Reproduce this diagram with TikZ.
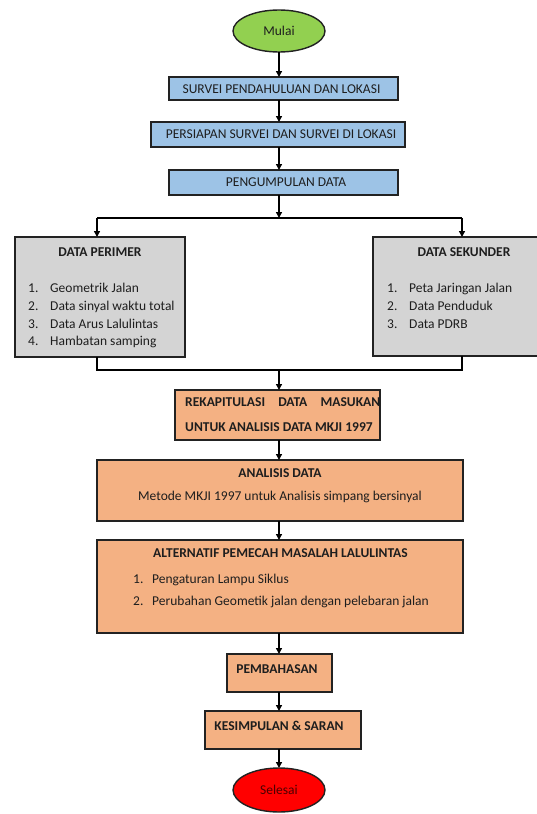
\documentclass[tikz,border=0pt]{standalone}
\usepackage{fontspec}
\setmainfont{Carlito}
\usetikzlibrary{arrows.meta,shapes.geometric}
\definecolor{cgreen}{HTML}{92D050}
\definecolor{cblue}{HTML}{9DC3E6}
\definecolor{cgray}{HTML}{D4D4D4}
\definecolor{corange}{HTML}{F4B183}
\definecolor{cred}{HTML}{FF0000}
\definecolor{cline}{HTML}{222222}
\definecolor{ctext}{HTML}{1E1E1E}
\begin{document}
\begin{tikzpicture}[x=1pt,y=-1pt,
  every node/.style={font=\fontsize{13.5}{16}\selectfont,text=ctext},
  shapebox/.style={draw=cline,line width=1.4pt,inner sep=0pt,outer sep=0pt},
  bluebox/.style={shapebox,fill=cblue},
  graybox/.style={shapebox,fill=cgray},
  orangebox/.style={shapebox,fill=corange},
  oval/.style={shapebox,ellipse},
  lbl/.style={inner sep=0pt},
  lleft/.style={inner sep=0pt,anchor=mid west},
  bold/.style={font=\fontsize{13.5}{16}\selectfont\bfseries},
  arr/.style={draw=black,line width=1.4pt,-{Triangle[length=6pt,width=6pt]}},
  wire/.style={draw=black,line width=1.4pt}
]
\useasboundingbox (0,0) rectangle (537,814);
% ovals
\node[oval,fill=cgreen,minimum width=92pt,minimum height=42pt] (mulai) at (279,31) {};
\node[lbl] (tmulai) at (279,31) {Mulai};
\node[oval,fill=cred,minimum width=92pt,minimum height=44pt] (selesai) at (279,790) {};
\node[lbl,text=black!70!red] (tselesai) at (279,790) {Selesai};
% blue boxes
\node[bluebox,minimum width=229pt,minimum height=23pt] (b1) at (283.5,88.5) {};
\node[lbl] (tb1) at (281.5,89) {SURVEI PENDAHULUAN DAN LOKASI};
\node[bluebox,minimum width=254pt,minimum height=25pt] (b2) at (278,134.5) {};
\node[lbl] (tb2) at (281,134.5) {PERSIAPAN SURVEI DAN SURVEI DI LOKASI};
\node[bluebox,minimum width=229pt,minimum height=25pt] (b3) at (283.5,182.5) {};
\node[lbl] (tb3) at (286,182.5) {PENGUMPULAN DATA};
% gray boxes
\node[graybox,minimum width=170pt,minimum height=120pt] (gl) at (100,297) {};
\node[lbl,bold] (tgl) at (100,252) {DATA PERIMER};
\node[lleft] (gl1n) at (28,290) {1.};
\node[lleft] (gl1) at (50,290) {Geometrik Jalan};
\node[lleft] (gl2n) at (28,308) {2.};
\node[lleft] (gl2) at (50,308) {Data sinyal waktu total};
\node[lleft] (gl3n) at (28,326) {3.};
\node[lleft] (gl3) at (50,326) {Data Arus Lalulintas};
\node[lleft] (gl4n) at (28,343) {4.};
\node[lleft] (gl4) at (50,343) {Hambatan samping};
\node[graybox,minimum width=187pt,minimum height=119pt] (gr) at (466.5,296.5) {};
\node[lbl,bold] (tgr) at (464,252) {DATA SEKUNDER};
\node[lleft] (gr1n) at (387,290) {1.};
\node[lleft] (gr1) at (409,290) {Peta Jaringan Jalan};
\node[lleft] (gr2n) at (387,308) {2.};
\node[lleft] (gr2) at (409,308) {Data Penduduk};
\node[lleft] (gr3n) at (387,326) {3.};
\node[lleft] (gr3) at (409,326) {Data PDRB};
% orange boxes
\node[orangebox,minimum width=205pt,minimum height=50pt] (rek) at (277.5,415) {};
\node[lleft,bold] (trek1) at (185,404) {\makebox[195pt][s]{REKAPITULASI\hfill DATA\hfill MASUKAN}};
\node[lleft,bold] (trek2) at (185,429) {UNTUK ANALISIS DATA MKJI 1997};
\node[orangebox,minimum width=366pt,minimum height=61pt] (ana) at (280,490.5) {};
\node[lbl,bold] (tana1) at (280,473) {ANALISIS DATA};
\node[lbl] (tana2) at (280,497) {Metode MKJI 1997 untuk Analisis simpang bersinyal};
\node[orangebox,minimum width=366pt,minimum height=93pt] (alt) at (280,586.5) {};
\node[lleft,bold] (talt) at (153,555) {ALTERNATIF PEMECAH MASALAH LALULINTAS};
\node[lleft] (alt1n) at (133,581) {1.};
\node[lleft] (alt1) at (152,581) {Pengaturan Lampu Siklus};
\node[lleft] (alt2n) at (133,603) {2.};
\node[lleft] (alt2) at (152,603) {Perubahan Geometik jalan dengan pelebaran jalan};
\node[orangebox,minimum width=105pt,minimum height=38pt] (pem) at (279.5,673) {};
\node[lbl,bold] (tpem) at (277,669) {PEMBAHASAN};
\node[orangebox,minimum width=156pt,minimum height=38pt] (kes) at (283,730) {};
\node[lbl,bold] (tkes) at (279,726) {KESIMPULAN \& SARAN};
% junction coordinates
\coordinate (j1) at (279,218);
\coordinate (j1l) at (97,218);
\coordinate (j1r) at (462,218);
\coordinate (j2) at (279,370);
\coordinate (j2l) at (97,370);
\coordinate (j2r) at (462,370);
% connectors
\draw[arr] (mulai.south) -- (b1.north -| mulai);
\draw[arr] (b1.south -| mulai) -- (b2.north -| mulai);
\draw[arr] (b2.south -| mulai) -- (b3.north -| mulai);
\draw[arr] (b3.south -| mulai) -- (j1);
\draw[wire] (j1l) -- (j1r);
\draw[arr] (j1l) -- (gl.north -| j1l);
\draw[arr] (j1r) -- (gr.north -| j1r);
\draw[wire] (gl.south -| j2l) -- (j2l) -- (j2r) -- (gr.south -| j2r);
\draw[arr] (j2) -- (rek.north -| j2);
\draw[arr] (rek.south -| j2) -- (ana.north -| j2);
\draw[arr] (ana.south -| j2) -- (alt.north -| j2);
\draw[arr] (alt.south -| j2) -- (pem.north -| j2);
\draw[arr] (pem.south -| j2) -- (kes.north -| j2);
\draw[arr] (kes.south -| j2) -- (selesai.north);
\end{tikzpicture}
\end{document}
